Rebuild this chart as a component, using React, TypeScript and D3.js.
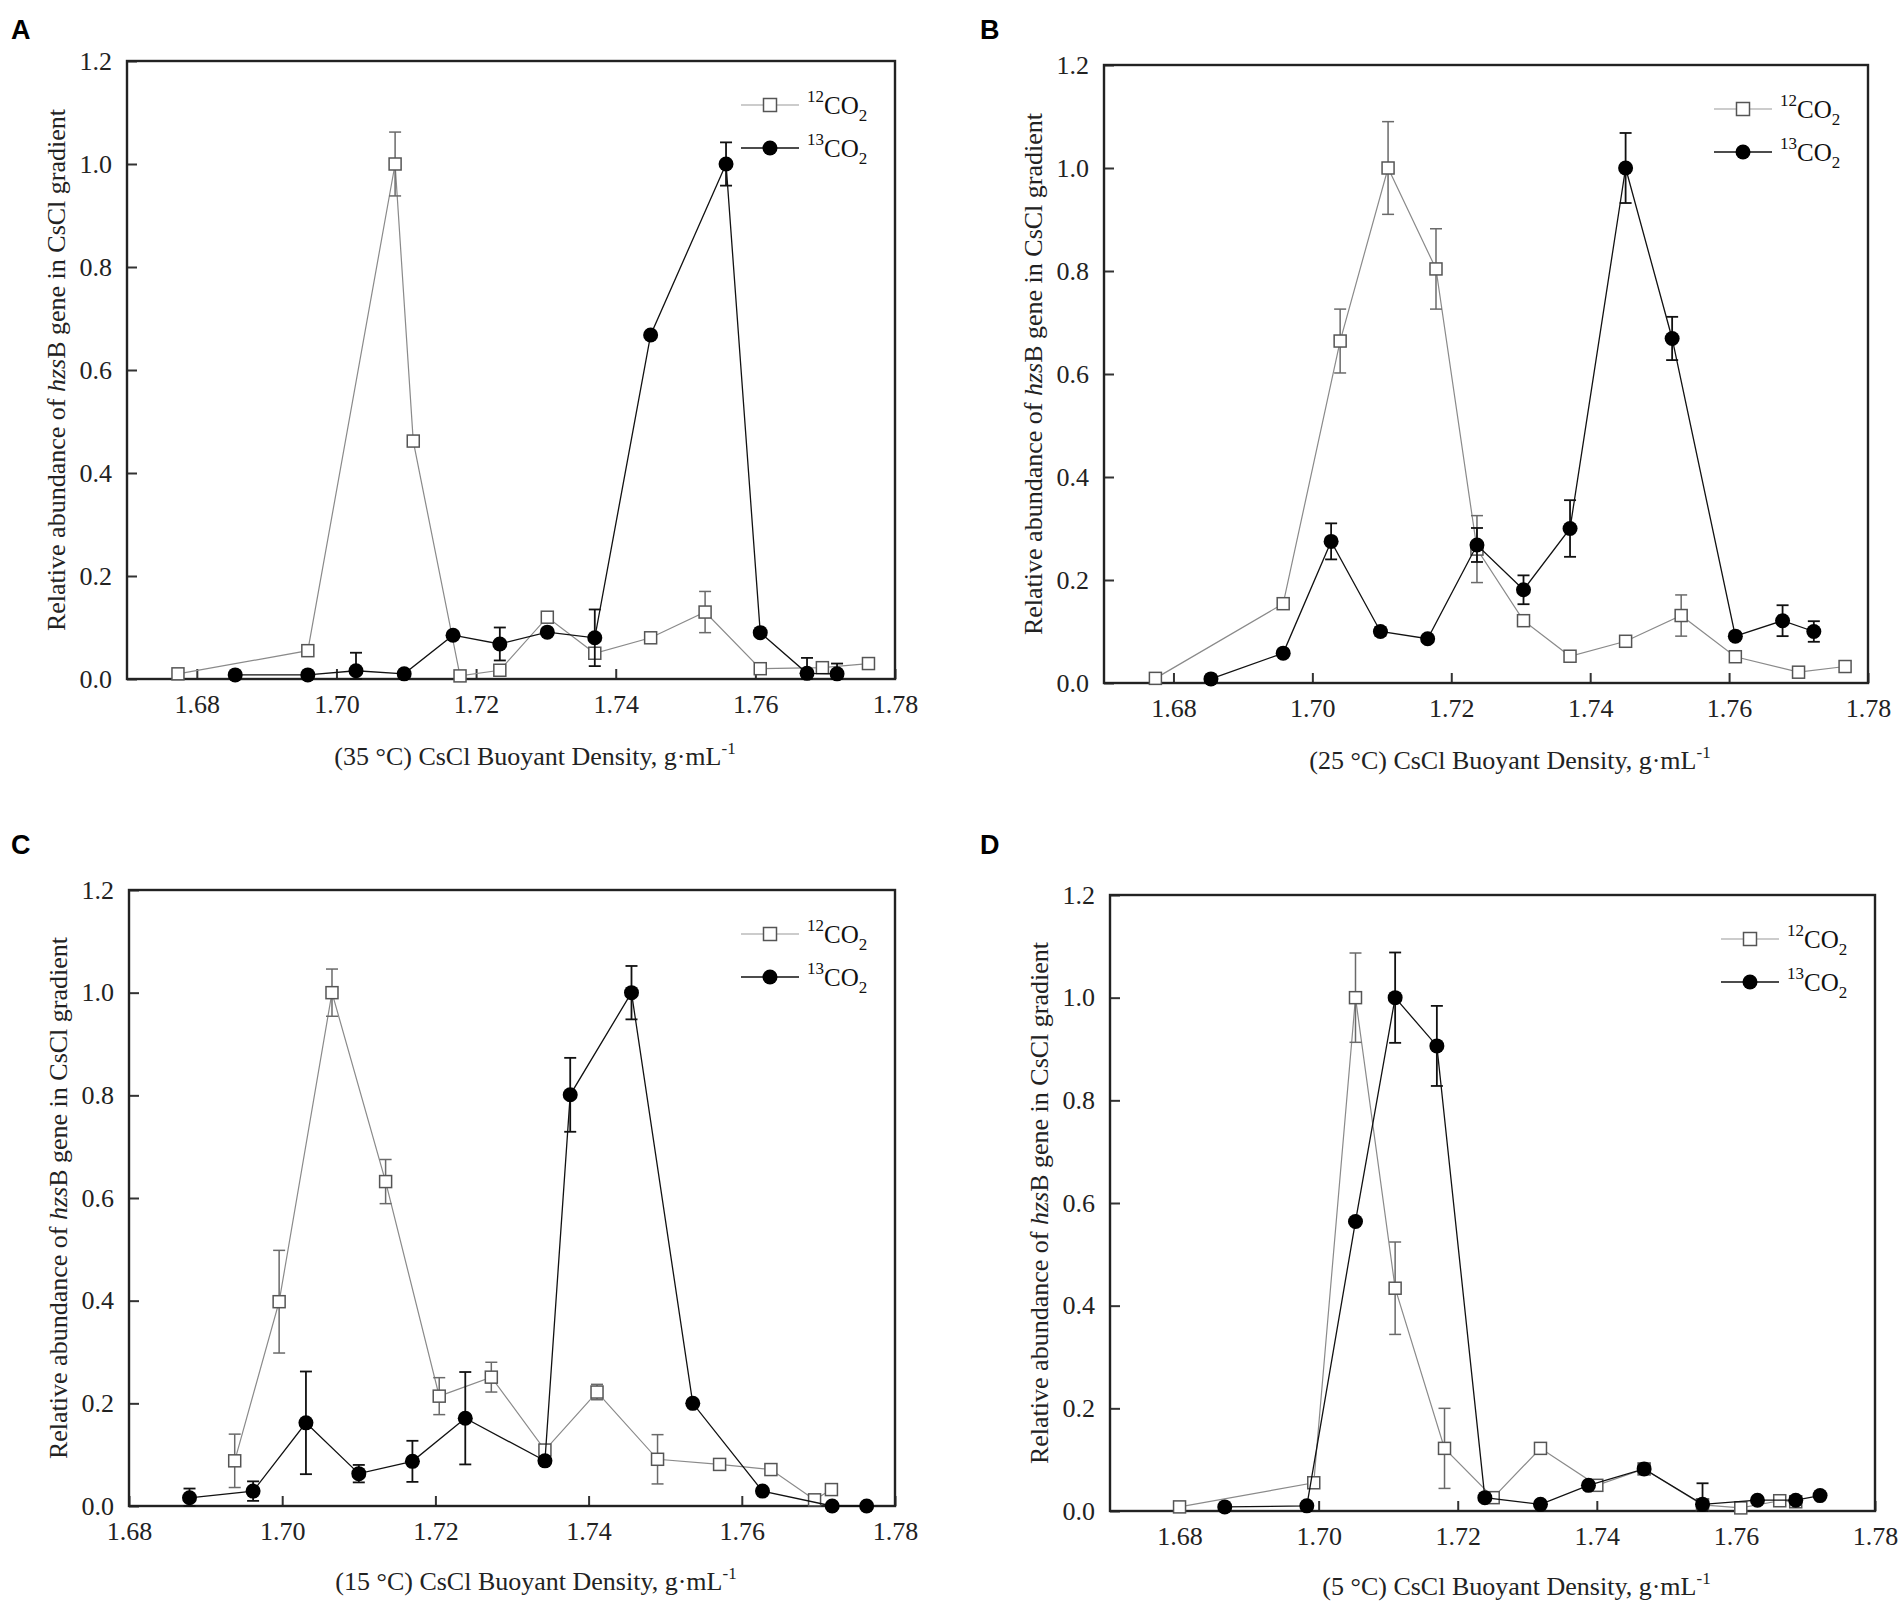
import { useEffect, useRef } from "react";
import * as d3 from "d3";

// Panel A (35 °C)
const a12Density = [1.6773, 1.6959, 1.7084, 1.711, 1.7177, 1.7234, 1.7302, 1.737, 1.745, 1.7528, 1.7607, 1.7696, 1.7762];
const a12Value = [0.01, 0.055, 1.0, 0.462, 0.006, 0.017, 0.12, 0.05, 0.08, 0.13, 0.02, 0.022, 0.03];
const a12Err = [0.005, 0, 0.062, 0, 0, 0.01, 0.008, 0.01, 0, 0.04, 0.008, 0.008, 0.005];
const a13Density = [1.6855, 1.6959, 1.7028, 1.7097, 1.7167, 1.7234, 1.7302, 1.737, 1.745, 1.7558, 1.7607, 1.7674, 1.7717];
const a13Value = [0.008, 0.008, 0.016, 0.01, 0.085, 0.068, 0.091, 0.08, 0.668, 1.0, 0.09, 0.011, 0.01];
const a13Err = [0, 0, 0.035, 0, 0, 0.032, 0, 0.055, 0, 0.042, 0, 0.03, 0.02];

// Panel B (25 °C)
const b12Density = [1.6774, 1.6958, 1.704, 1.7109, 1.7178, 1.7237, 1.7304, 1.7371, 1.7451, 1.7531, 1.7609, 1.77, 1.7767];
const b12Value = [0.009, 0.154, 0.664, 1.0, 0.804, 0.26, 0.121, 0.052, 0.081, 0.131, 0.051, 0.021, 0.032];
const b12Err = [0.005, 0.008, 0.062, 0.09, 0.078, 0.065, 0.008, 0.006, 0.006, 0.04, 0.008, 0.008, 0.006];
const b13Density = [1.6854, 1.6958, 1.7027, 1.7098, 1.7166, 1.7237, 1.7304, 1.7371, 1.7451, 1.7518, 1.7609, 1.7677, 1.7722];
const b13Value = [0.008, 0.058, 0.275, 0.1, 0.086, 0.268, 0.181, 0.3, 1.0, 0.669, 0.091, 0.121, 0.1];
const b13Err = [0, 0, 0.035, 0.008, 0.006, 0.033, 0.028, 0.055, 0.068, 0.042, 0.006, 0.03, 0.02];

// Panel C (15 °C)
const c12Density = [1.6938, 1.6996, 1.7065, 1.7135, 1.7205, 1.7273, 1.7343, 1.7411, 1.749, 1.7571, 1.7638, 1.7695, 1.7717];
const c12Value = [0.088, 0.398, 1.0, 0.632, 0.214, 0.251, 0.109, 0.222, 0.091, 0.081, 0.071, 0.012, 0.032];
const c12Err = [0.052, 0.1, 0.046, 0.043, 0.036, 0.029, 0.01, 0.015, 0.048, 0.008, 0.008, 0.006, 0.01];
const c13Density = [1.6879, 1.6962, 1.7031, 1.71, 1.717, 1.7239, 1.7343, 1.7376, 1.7456, 1.7536, 1.7627, 1.7718, 1.7763];
const c13Value = [0.016, 0.029, 0.162, 0.063, 0.087, 0.171, 0.088, 0.801, 1.0, 0.2, 0.029, 0.0, 0.0];
const c13Err = [0.018, 0.019, 0.1, 0.017, 0.04, 0.09, 0, 0.072, 0.052, 0, 0, 0, 0];

// Panel D (5 °C)
const d12Density = [1.68, 1.6993, 1.7053, 1.711, 1.7181, 1.7251, 1.7319, 1.74, 1.7468, 1.7552, 1.7607, 1.7663, 1.7686];
const d12Value = [0.008, 0.055, 1.0, 0.434, 0.122, 0.026, 0.122, 0.05, 0.082, 0.012, 0.006, 0.02, 0.018];
const d12Err = [0.008, 0.008, 0.087, 0.09, 0.078, 0, 0, 0, 0, 0, 0.01, 0.005, 0];
const d13Density = [1.6865, 1.6983, 1.7053, 1.711, 1.717, 1.7239, 1.7319, 1.7388, 1.7468, 1.7552, 1.7631, 1.7686, 1.7721];
const d13Value = [0.008, 0.01, 0.564, 1.0, 0.906, 0.026, 0.013, 0.05, 0.082, 0.013, 0.021, 0.021, 0.03];
const d13Err = [0, 0, 0, 0.088, 0.078, 0, 0, 0, 0, 0.041, 0, 0, 0];

const letters = ["A", "B", "C", "D"];
const temps = ["35", "25", "15", "5"];
const xDomains: [number, number][] = [[1.67, 1.78], [1.67, 1.78], [1.68, 1.78], [1.67, 1.78]];
const yDomain: [number, number] = [0, 1.2];

type Series = { x: number[]; y: number[]; e: number[] };

const light: Series[] = [
  { x: a12Density, y: a12Value, e: a12Err },
  { x: b12Density, y: b12Value, e: b12Err },
  { x: c12Density, y: c12Value, e: c12Err },
  { x: d12Density, y: d12Value, e: d12Err },
];
const heavy: Series[] = [
  { x: a13Density, y: a13Value, e: a13Err },
  { x: b13Density, y: b13Value, e: b13Err },
  { x: c13Density, y: c13Value, e: c13Err },
  { x: d13Density, y: d13Value, e: d13Err },
];

// plot boxes: left, top, right, bottom
const boxes = [
  [127, 61, 895, 679],
  [1104, 65, 1868, 683],
  [129, 890, 895, 1506],
  [1110, 895, 1875, 1511],
];

const SERIF = "'Liberation Serif', 'Times New Roman', serif";
const GRAY = "#8a8a8a";
const FS = 26;

export default function App() {
  const ref = useRef<SVGSVGElement>(null);

  useEffect(() => {
    if (!ref.current) return;
    const svg = d3.select(ref.current);
    svg.selectAll("*").remove();

    letters.forEach((letter, k) => {
      const [L, T, R, B] = boxes[k];
      const x = d3.scaleLinear().domain(xDomains[k]).range([L, R]);
      const y = d3.scaleLinear().domain(yDomain).range([B, T]);
      const g = svg.append("g");

      g.append("text")
        .attr("x", k % 2 === 0 ? 11 : 980)
        .attr("y", k < 2 ? 39 : 854)
        .attr("font-family", "'Liberation Sans', Arial, sans-serif")
        .attr("font-weight", "bold")
        .attr("font-size", 27)
        .text(letter);

      const xa = g
        .append("g")
        .attr("transform", `translate(0,${B})`)
        .call(
          d3.axisBottom(x).ticks(6).tickFormat(d3.format(".2f")).tickSizeInner(-10).tickSizeOuter(0).tickPadding(16)
        );
      const ya = g
        .append("g")
        .attr("transform", `translate(${L},0)`)
        .call(
          d3.axisLeft(y).ticks(6).tickFormat(d3.format(".1f")).tickSizeInner(-10).tickSizeOuter(0).tickPadding(15)
        );
      [xa, ya].forEach((a) => {
        a.select(".domain").remove();
        a.attr("font-family", SERIF).attr("font-size", FS);
        a.selectAll("line").attr("stroke", "#333").attr("stroke-width", 2);
        a.selectAll("text").attr("fill", "#222");
      });

      g.append("rect")
        .attr("x", L)
        .attr("y", T)
        .attr("width", R - L)
        .attr("height", B - T)
        .attr("fill", "none")
        .attr("stroke", "#222")
        .attr("stroke-width", 2.4);

      // axis titles
      const xt = g
        .append("text")
        .attr("x", (L + R) / 2 + 24)
        .attr("y", B + (k < 2 ? 86 : 84))
        .attr("text-anchor", "middle")
        .attr("font-family", SERIF)
        .attr("font-size", FS)
        .attr("fill", "#222");
      xt.append("tspan").text(`(${temps[k]} °C) CsCl Buoyant Density, g·mL`);
      xt.append("tspan").attr("font-size", 17).attr("dy", -11).text("-1");

      const yt = g
        .append("text")
        .attr("transform", `translate(${L - 71},${(T + B) / 2}) rotate(-90)`)
        .attr("text-anchor", "middle")
        .attr("dy", "0.35em")
        .attr("font-family", SERIF)
        .attr("font-size", FS)
        .attr("fill", "#222");
      yt.append("tspan").text("Relative abundance of ");
      yt.append("tspan").attr("font-style", "italic").text("hzs");
      yt.append("tspan").text("B gene in CsCl gradient");

      const drawSeries = (s: Series, isHeavy: boolean) => {
        const pts = s.x.map((d, i) => ({ x: d, y: s.y[i], e: s.e[i] }));
        const color = isHeavy ? "#111" : GRAY;
        const line = d3
          .line<{ x: number; y: number }>()
          .x((d) => x(d.x))
          .y((d) => y(d.y));
        g.append("path")
          .attr("d", line(pts))
          .attr("fill", "none")
          .attr("stroke", color)
          .attr("stroke-width", isHeavy ? 1.3 : 1.2);

        const eb = g
          .append("g")
          .attr("stroke", isHeavy ? "#111" : "#6a6a6a")
          .attr("stroke-width", isHeavy ? 1.8 : 1.5)
          .selectAll("g")
          .data(pts.filter((d) => d.e > 0))
          .join("g");
        eb.append("line")
          .attr("x1", (d) => x(d.x))
          .attr("x2", (d) => x(d.x))
          .attr("y1", (d) => y(Math.max(0, d.y - d.e)))
          .attr("y2", (d) => y(d.y + d.e));
        [1, -1].forEach((sgn) =>
          eb
            .append("line")
            .attr("x1", (d) => x(d.x) - 6)
            .attr("x2", (d) => x(d.x) + 6)
            .attr("y1", (d) => y(Math.max(0, d.y + sgn * d.e)))
            .attr("y2", (d) => y(Math.max(0, d.y + sgn * d.e)))
        );

        if (isHeavy) {
          g.append("g")
            .selectAll("circle")
            .data(pts)
            .join("circle")
            .attr("cx", (d) => x(d.x))
            .attr("cy", (d) => y(d.y))
            .attr("r", 7.5)
            .attr("fill", "#000");
        } else {
          g.append("g")
            .selectAll("rect")
            .data(pts)
            .join("rect")
            .attr("x", (d) => x(d.x) - 6)
            .attr("y", (d) => y(d.y) - 6)
            .attr("width", 12)
            .attr("height", 12)
            .attr("fill", "#fff")
            .attr("stroke", "#555")
            .attr("stroke-width", 1.5);
        }
      };

      drawSeries(light[k], false);
      drawSeries(heavy[k], true);

      // legend
      const rows = [
        { label: "12", heavy: false, yy: T + 44 },
        { label: "13", heavy: true, yy: T + 87 },
      ];
      rows.forEach((r) => {
        g.append("line")
          .attr("x1", R - 154)
          .attr("x2", R - 96)
          .attr("y1", r.yy)
          .attr("y2", r.yy)
          .attr("stroke", r.heavy ? "#111" : "#999")
          .attr("stroke-width", r.heavy ? 1.4 : 1.2);
        if (r.heavy) {
          g.append("circle").attr("cx", R - 125).attr("cy", r.yy).attr("r", 7.5).attr("fill", "#000");
        } else {
          g.append("rect")
            .attr("x", R - 131.5)
            .attr("y", r.yy - 6.5)
            .attr("width", 13)
            .attr("height", 13)
            .attr("fill", "#fff")
            .attr("stroke", "#555")
            .attr("stroke-width", 1.5);
        }
        const t = g
          .append("text")
          .attr("x", R - 88)
          .attr("y", r.yy + 9)
          .attr("font-family", SERIF)
          .attr("fill", "#111");
        t.append("tspan").attr("font-size", 17).attr("dy", -12).text(r.label);
        t.append("tspan").attr("font-size", 25).attr("dy", 12).text("CO");
        t.append("tspan").attr("font-size", 17).attr("dy", 7).text("2");
      });
    });
  }, []);

  return (
    <svg
      ref={ref}
      width={1904}
      height={1604}
      style={{ position: "absolute", left: 0, top: 0, background: "#fff" }}
    />
  );
}
